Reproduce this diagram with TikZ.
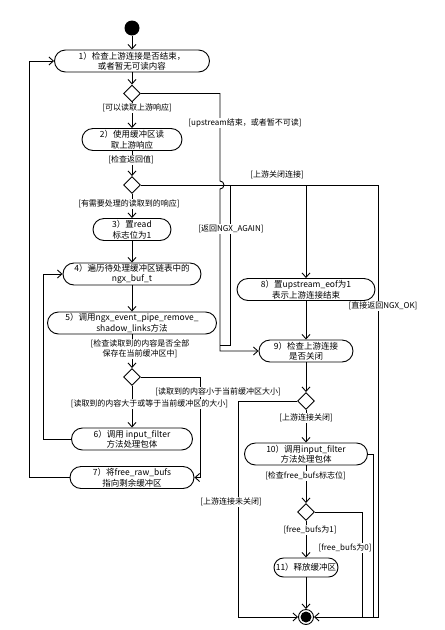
\documentclass[tikz,border=0pt]{standalone}
\usepackage{fontspec}
\newfontfamily\cjk{Noto Sans CJK SC}
\usetikzlibrary{arrows.meta,shapes.geometric}

\begin{document}
\begin{tikzpicture}[x=1pt, y=-1pt, line width=0.9pt,
  >={Straight Barb[length=4.5pt,width=8pt]},
  act/.style={draw, rounded corners=11pt, minimum height=22pt, inner sep=1pt, align=center, font=\cjk\fontsize{8.5}{10.5}\selectfont},
  dec/.style={draw, diamond, minimum size=17pt, inner sep=0pt},
  lbl/.style={fill=white, inner sep=1pt, align=center, font=\cjk\fontsize{8}{10}\selectfont}]
\useasboundingbox (0,0) rectangle (445,630);
% left column
\node [circle, fill=black, minimum size=15pt, inner sep=0pt] (start) at (132,28) {};
\node [act, minimum width=155pt] (a1) at (132,61) {1）检查上游连接是否结束，\\或者暂无可读内容};
\node [dec] (d1) at (132,93.5) {};
\node [act, minimum width=100pt] (a2) at (132,139.5) {2）使用缓冲区读\\取上游响应};
\node [dec] (d2) at (132,185) {};
\node [act, minimum width=78pt] (a3) at (132,229.5) {3）置read\\标志位为1};
\node [act, minimum width=138pt] (a4) at (132,274) {4）遍历待处理缓冲区链表中的\\ngx\_buf\_t};
\node [act, minimum width=169pt] (a5) at (132,323) {5）调用ngx\_event\_pipe\_remove\_\\shadow\_links方法};
\node [dec] (d3) at (132,377) {};
\node [act, minimum width=121pt] (a6) at (132,439) {6）调用 input\_filter\\方法处理包体};
\node [act, minimum width=124pt] (a7) at (132,477.5) {7）将free\_raw\_bufs\\指向剩余缓冲区};
% right column
\node [act, minimum width=138pt] (a8) at (306,289.5) {8）置upstream\_eof为1\\表示上游连接结束};
\node [act, minimum width=94pt] (a9) at (306,351) {9）检查上游连接\\是否关闭};
\node [dec] (d4) at (306,401) {};
\node [act, minimum width=123pt] (a10) at (306,454) {10）调用input\_filter\\方法处理包体};
\node [dec] (d5) at (306,512) {};
\node [act, minimum width=64pt, minimum height=19pt, rounded corners=9.5pt] (a11) at (306,567.5) {11）释放缓冲区};
\node [circle, draw, minimum size=15pt, inner sep=0pt] (stop) at (306,617) {};
\fill (stop) circle (5.5);
% junctions
\coordinate (j1) at (230,185);
\coordinate (j2) at (306,185);
\coordinate (j3) at (220,345);
% main flow
\draw [->] (start) -- (a1);
\draw [->] (a1) -- (d1);
\draw [->] (d1) -- (a2);
\draw [->] (a2) -- (d2);
\draw [->] (d2) -- (a3);
\draw [->] (a3) -- (a4);
\draw [->] (a4) -- (a5);
\draw [->] (a5) -- (d3);
\draw [->] (d3) -- (a6);
\draw [->] (d3.east) -- (200,377) |- (a7.east);
\draw [->] (a6.west) -- (43,439) |- (a4.west);
\draw [->] (a7.west) -- (29,477.5) |- (a1.west);
\draw [->] (d1.east) -| (220,181) arc[start angle=-90, end angle=90, radius=4] |- (a9.west);
\draw [->] (d2.east) -- (378,185) |- (stop.east);
\draw (j1) |- (j3);
\draw [->] (j2) -- (a8);
\draw [->] (a8) -- (a9);
\draw [->] (a9) -- (d4);
\draw [->] (d4) -- (a10);
\draw [->] (d4.west) -- (238,401) |- (stop.west);
\draw [->] (a10) -- (d5);
\draw (a10.east) -| (373,618);
\draw [->] (d5) -- (a11);
\draw (d5.east) -| (362,618);
\draw [->] (a11) -- (stop);
% guards
\node [lbl] (g1) at (137,108) {[可以读取上游响应]};
\node [lbl] (g2) at (245,123) {[upstream结束，或者暂不可读]};
\node [lbl] (g3) at (131,160) {[检查返回值]};
\node [lbl] (g4) at (277,175) {[上游关闭连接]};
\node [lbl] (g5) at (129,204) {[有需要处理的读取到的响应]};
\node [lbl] (g6) at (231,229) {[返回NGX\_AGAIN]};
\node [lbl] (g7) at (383,306) {[直接返回NGX\_OK]};
\node [lbl] (g8) at (140,349) {[检查读取到的内容是否全部\\保存在当前缓冲区中]};
\node [lbl] (g9) at (218,392) {[读取到的内容小于当前缓冲区大小]};
\node [lbl] (g10) at (149.5,404) {[读取到的内容大于或等于当前缓冲区的大小]};
\node [lbl] (g11) at (306,418) {[上游连接关闭]};
\node [lbl] (g12) at (305.5,476) {[检查free\_bufs标志位]};
\node [lbl] (g13) at (231,502) {[上游连接未关闭]};
\node [lbl] (g14) at (310,530) {[free\_bufs为1]};
\node [lbl] (g15) at (345,548) {[free\_bufs为0]};
\end{tikzpicture}
\end{document}
